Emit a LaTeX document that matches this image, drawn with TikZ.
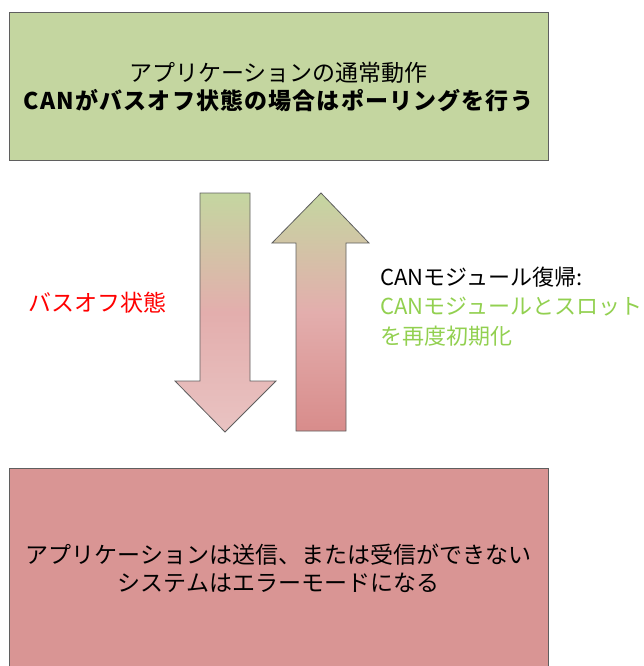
\documentclass[tikz,border=0pt]{standalone}
\usepackage{fontspec}
\setmainfont{Noto Sans CJK JP}
\definecolor{boxgreen}{HTML}{C4D6A0}
\definecolor{boxred}{HTML}{D99594}
\definecolor{edgegray}{HTML}{5F5F5F}
\definecolor{txtred}{HTML}{FF0000}
\definecolor{txtgreen}{HTML}{92D050}
\definecolor{arrowpink}{HTML}{E3AEAD}
\definecolor{arrowlight}{HTML}{E9C3C2}
\definecolor{arrowdark}{HTML}{D88C8B}
\begin{document}
\begin{tikzpicture}[x=1pt,y=-1pt,
  mainbox/.style={draw=edgegray, line width=1pt, minimum width=539pt, align=center,
    font=\fontsize{23}{28}\selectfont, inner sep=0pt},
  blockarrow/.style={draw=edgegray, line width=0.8pt, line join=miter},
  sidetext/.style={font=\fontsize{22}{30}\selectfont, inner sep=0pt}]
\useasboundingbox (0,0) rectangle (644,666);
% boxes
\node[mainbox, fill=boxgreen, minimum height=147pt] (top) at (278.5,86.5)
  {アプリケーションの通常動作\\{\bfseries\addfontfeature{LetterSpace=5}CANがバスオフ状態の場合はポーリングを行う}};
\node[mainbox, fill=boxred, minimum height=200pt] (bottom) at (278.5,568.5)
  {アプリケーションは送信、または受信ができない\\システムはエラーモードになる};
% down arrow
\path[blockarrow, top color=boxgreen, bottom color=arrowlight, middle color=arrowpink]
  (200,193) -- (250,193) -- (250,381) -- (276,381) -- (225,432) -- (175,381) -- (200,381) -- cycle;
% up arrow
\path[blockarrow, top color=boxgreen, bottom color=arrowdark, middle color=arrowpink]
  (321,193) -- (369,243) -- (346,243) -- (346,431) -- (296,431) -- (296,243) -- (272,243) -- cycle;
% labels
\node[sidetext, text=txtred, font=\fontsize{23}{30}\selectfont] (busoff) at (97,303) {バスオフ状態};
\node[sidetext, anchor=west] (rec1) at (380,277) {CANモジュール復帰:};
\node[sidetext, anchor=west, text=txtgreen] (rec2) at (380,307) {CANモジュールとスロット};
\node[sidetext, anchor=west, text=txtgreen] (rec3) at (380,336) {を再度初期化};
\end{tikzpicture}
\end{document}
